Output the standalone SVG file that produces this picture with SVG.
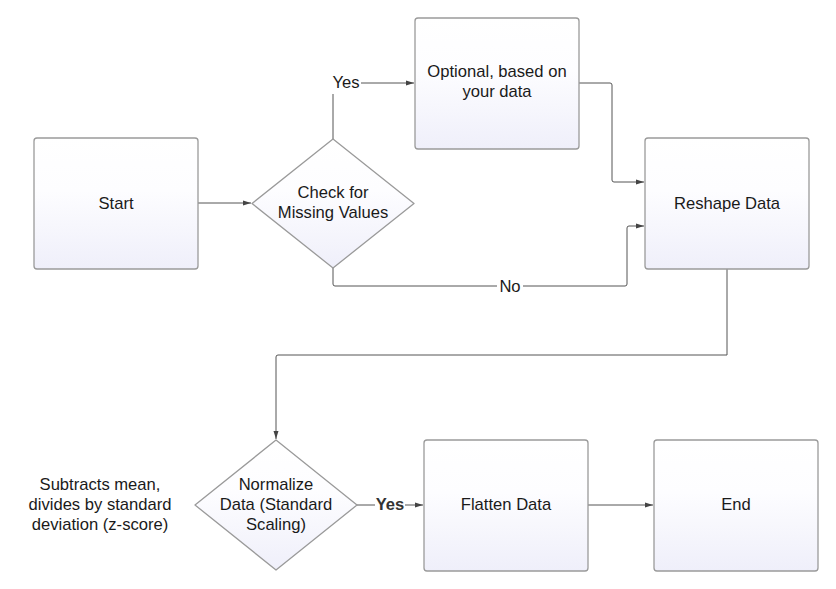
<svg xmlns="http://www.w3.org/2000/svg" width="836" height="589" viewBox="0 0 836 589">
<defs>
<linearGradient id="g" x1="0" y1="0" x2="0" y2="1">
<stop offset="0" stop-color="#ffffff"/>
<stop offset="0.4" stop-color="#fdfdff"/>
<stop offset="1" stop-color="#efeffa"/>
</linearGradient>
<marker id="a" markerWidth="8" markerHeight="6" refX="8" refY="3" orient="auto" markerUnits="userSpaceOnUse">
<path d="M0,0.5 L8,3 L0,5.5 Z" fill="#444"/>
</marker>
<style>
.n{fill:url(#g);stroke:#9a9a9a;stroke-width:1.3}
.t{font-family:"Liberation Sans",Arial,sans-serif;font-size:16.6px;fill:#1a1a1a;text-anchor:middle}
.c{fill:none;stroke:#555;stroke-width:1}
.b{font-weight:bold;fill:#333}
</style>
</defs>
<rect width="836" height="589" fill="#fff"/>
<g id="connectors">
<path class="c" d="M198,203 H251" marker-end="url(#a)"/>
<path class="c" d="M333,139 V94"/>
<path class="c" d="M361,83 H414" marker-end="url(#a)"/>
<path class="c" d="M579,83 H610 Q612,83 612,85 V180 Q612,182 614,182 H644" marker-end="url(#a)"/>
<path class="c" d="M333,268 V284 Q333,286 335,286 H497"/>
<path class="c" d="M523,286 H625 Q627,286 627,284 V228 Q627,226 629,226 H644" marker-end="url(#a)"/>
<path class="c" d="M727,269 V355 H278 Q276,355 276,357 V439" marker-end="url(#a)"/>
<path class="c" d="M357,505 H375"/>
<path class="c" d="M405,505 H423" marker-end="url(#a)"/>
<path class="c" d="M588,505 H653" marker-end="url(#a)"/>
<text class="t" x="346" y="88">Yes</text>
<text class="t" x="510" y="292">No</text>
<text class="t b" x="390" y="510">Yes</text>
</g>
<g id="start">
<rect class="n" x="34" y="138" width="164" height="131" rx="3"/>
<text class="t" x="116" y="209">Start</text>
</g>
<g id="check">
<path class="n" d="M333,139 L414,203.5 L333,268 L252,203.5 Z" stroke-linejoin="round"/>
<text class="t" x="333" y="198">Check for</text>
<text class="t" x="333" y="218">Missing Values</text>
</g>
<g id="optional">
<rect class="n" x="415" y="18" width="164" height="131" rx="3"/>
<text class="t" x="497" y="77">Optional, based on</text>
<text class="t" x="497" y="97">your data</text>
</g>
<g id="reshape">
<rect class="n" x="645" y="138" width="164" height="131" rx="3"/>
<text class="t" x="727" y="209">Reshape Data</text>
</g>
<g id="normalize">
<path class="n" d="M276,440 L357,505 L276,570 L195,505 Z" stroke-linejoin="round"/>
<text class="t" x="276" y="490">Normalize</text>
<text class="t" x="276" y="510">Data (Standard</text>
<text class="t" x="276" y="530">Scaling)</text>
</g>
<g id="note">
<text class="t" x="100" y="490">Subtracts mean,</text>
<text class="t" x="100" y="510">divides by standard</text>
<text class="t" x="100" y="530">deviation (z-score)</text>
</g>
<g id="flatten">
<rect class="n" x="424" y="440" width="164" height="131" rx="3"/>
<text class="t" x="506" y="510">Flatten Data</text>
</g>
<g id="end">
<rect class="n" x="654" y="440" width="164" height="131" rx="3"/>
<text class="t" x="736" y="510">End</text>
</g>
</svg>
